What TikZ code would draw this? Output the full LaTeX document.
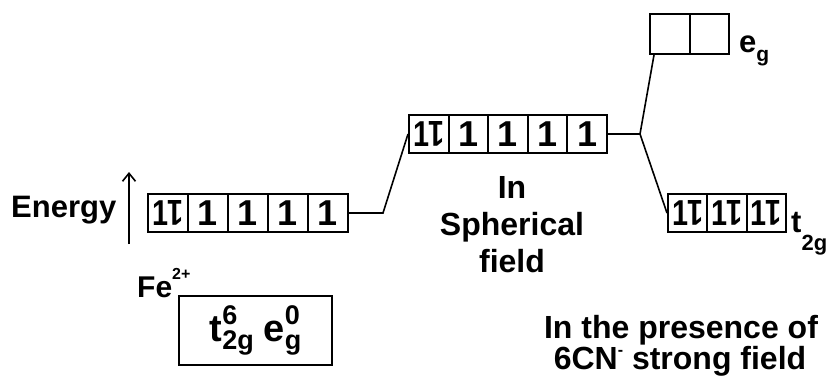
\documentclass[tikz,border=0pt]{standalone}
\usepackage{fontspec}
\setmainfont{Liberation Sans}
\usepackage{graphicx}
\usetikzlibrary{arrows.meta}
\newcommand\fs[1]{\fontsize{#1}{#1}\selectfont}
\newcommand\spinup{1}
\newcommand\spinpair{\scalebox{0.8}[1]{1\kern-1pt\rotatebox[origin=c]{180}{1}}}
\newcommand\supsub[2]{\makebox[0pt][l]{\raisebox{17pt}{\fs{27}#1}}\raisebox{-8pt}{\fs{27}#2}}
\tikzset{
  cell/.style={draw, line width=2pt, inner sep=0pt, minimum width=40pt, minimum height=38pt, font=\fs{36}\bfseries},
  conn/.style={line width=1.6pt},
  lbl/.style={inner sep=0pt, font=\fs{32}\bfseries},
}
\begin{document}
\begin{tikzpicture}[x=1pt, y=-1pt]
\useasboundingbox (0,0) rectangle (832,376);
% left row (free ion)
\foreach \i/\t in {1/\spinpair,2/\spinup,3/\spinup,4/\spinup,5/\spinup}
  \node[cell] (L\i) at ({128+40*\i},213) {\t};
% middle row (spherical field)
\foreach \i/\t in {1/\spinpair,2/\spinup,3/\spinup,4/\spinup,5/\spinup}
  \node[cell, minimum width=39.6pt] (M\i) at ({389.2+39.6*\i},134) {\t};
% eg
\foreach \i in {1,2}
  \node[cell, minimum width=39.5pt, minimum height=40pt] (E\i) at ({630.25+39.5*\i},34) {};
% t2g
\foreach \i in {1,2,3}
  \node[cell, minimum width=39.3pt] (T\i) at ({648.35+39.3*\i},213) {\spinpair};
% connectors
\coordinate (k1) at (383,213);
\draw[conn] (L5.east) -- (k1) -- (M1.west);
\coordinate (k2) at (640,134);
\draw[conn] (M5.east) -- (k2) -- ([xshift=5pt]E1.south west);
\draw[conn] (k2) -- (T1.west);
% energy arrow
\coordinate (ea0) at (129,244);
\coordinate (ea1) at (129,172);
\draw[conn, -{Straight Barb[length=8pt,width=13pt]}] (ea0) -- (ea1);
% texts
\node[lbl, anchor=base west, font=\fs{31}\bfseries] (energy) at (11,217) {Energy};
\node[lbl, anchor=base] (sph1) at (512,198) {In};
\node[lbl, anchor=base] (sph2) at (512,235) {Spherical};
\node[lbl, anchor=base] (sph3) at (512,272) {field};
\node[lbl, anchor=base] (pres1) at (681,338) {In the presence of};
\node[lbl, anchor=base] (pres2) at (680,369) {6CN\raisebox{14pt}{\fs{16}-} strong field};
\node[lbl, anchor=base west, font=\fs{30}\bfseries] (fe) at (137,297) {Fe\raisebox{18pt}{\fs{16}2+}};
\node[draw, line width=2pt, minimum width=153pt, minimum height=69pt, inner sep=0pt, font=\fs{38}\bfseries] (conf) at (255.5,330.5) {t\supsub{6}{2g}\hspace{10pt}e\supsub{0}{g}};
\node[anchor=base west, inner sep=0pt, font=\fs{31}\bfseries] (eglbl) at (739,52) {e\raisebox{-9pt}{\fs{21}g}};
\node[anchor=base west, inner sep=0pt, font=\fs{31}\bfseries] (t2glbl) at (791,232) {t\raisebox{-18pt}{\fs{22}2g}};
\end{tikzpicture}
\end{document}
